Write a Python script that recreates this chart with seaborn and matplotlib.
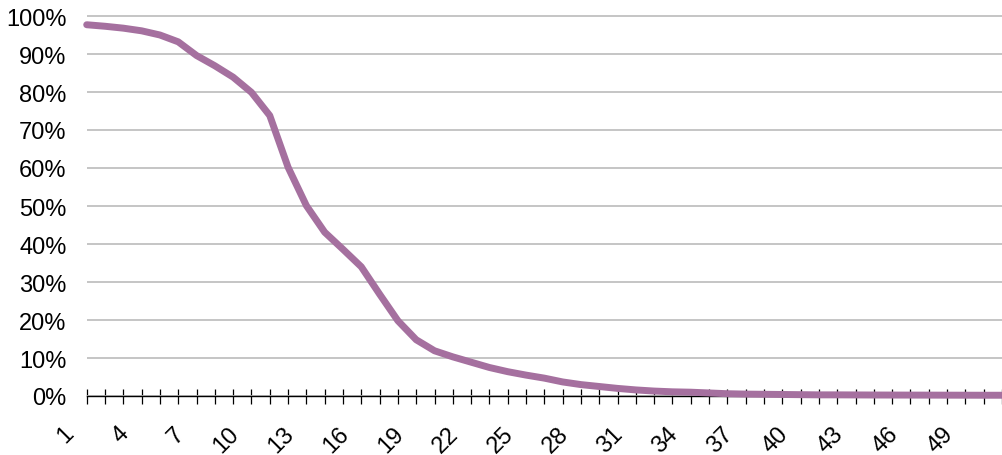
import numpy as np
import pandas as pd
import seaborn as sns
import matplotlib.pyplot as plt
from matplotlib.ticker import PercentFormatter
from matplotlib.transforms import ScaledTranslation

# data
categories = list(range(1, 52))
share = [0.977, 0.973, 0.968, 0.961, 0.950, 0.932, 0.896, 0.869, 0.839, 0.799,
         0.738, 0.602, 0.501, 0.431, 0.386, 0.340, 0.268, 0.198, 0.148, 0.119,
         0.103, 0.089, 0.075, 0.064, 0.055, 0.047, 0.037, 0.030, 0.025, 0.020,
         0.016, 0.013, 0.011, 0.010, 0.008, 0.006, 0.005, 0.0045, 0.004, 0.0035,
         0.003, 0.003, 0.0028, 0.0026, 0.0025, 0.0024, 0.0023, 0.0022, 0.0021, 0.002,
         0.002]
tick_labels = [str(c) if (c - 1) % 3 == 0 and c < 51 else "" for c in categories]

df = pd.DataFrame({"cat": categories, "share": share})

sns.set_style("white")
plt.rcParams["font.family"] = ["Liberation Sans", "DejaVu Sans"]

fig = plt.figure(figsize=(10.02, 4.56), dpi=100)
ax = fig.add_axes([86.7 / 1002, 1 - 404.6 / 456, 1 - 86.7 / 1002, (404.6 - 1.8) / 456])

sns.lineplot(data=df, x="cat", y="share", color="#a5709f", lw=5, ax=ax,
             zorder=3, clip_on=False, solid_capstyle="round")

ax.set_xlim(1, 50.66)
ax.set_ylim(-0.02, 1.04)
ax.set_yticks(np.arange(0, 1.01, 0.1))
ax.yaxis.set_major_formatter(PercentFormatter(1.0, decimals=0))
ax.grid(axis="y", color="#c0c0c0", lw=1.3)
ax.set_axisbelow(True)

for s in ["top", "right", "left"]:
    ax.spines[s].set_visible(False)
ax.spines["bottom"].set_position(("data", 0))
ax.spines["bottom"].set_color("black")
ax.spines["bottom"].set_linewidth(1)

ax.set_xticks(categories)
ax.set_xticklabels(tick_labels, rotation=45, ha="right", va="center",
                   rotation_mode="anchor")
ax.tick_params(axis="x", bottom=True, direction="inout", length=10.8, width=0.9,
               color="black", labelcolor="black", pad=19, labelsize=17)
ax.tick_params(axis="y", left=False, length=0, pad=14.4, labelsize=17,
               labelcolor="black")
shift = ScaledTranslation(-0.16, 0, fig.dpi_scale_trans)
for lab in ax.get_xticklabels():
    lab.set_transform(lab.get_transform() + shift)

ax.set_xlabel("")
ax.set_ylabel("")

fig.savefig("out.png", dpi=100)
